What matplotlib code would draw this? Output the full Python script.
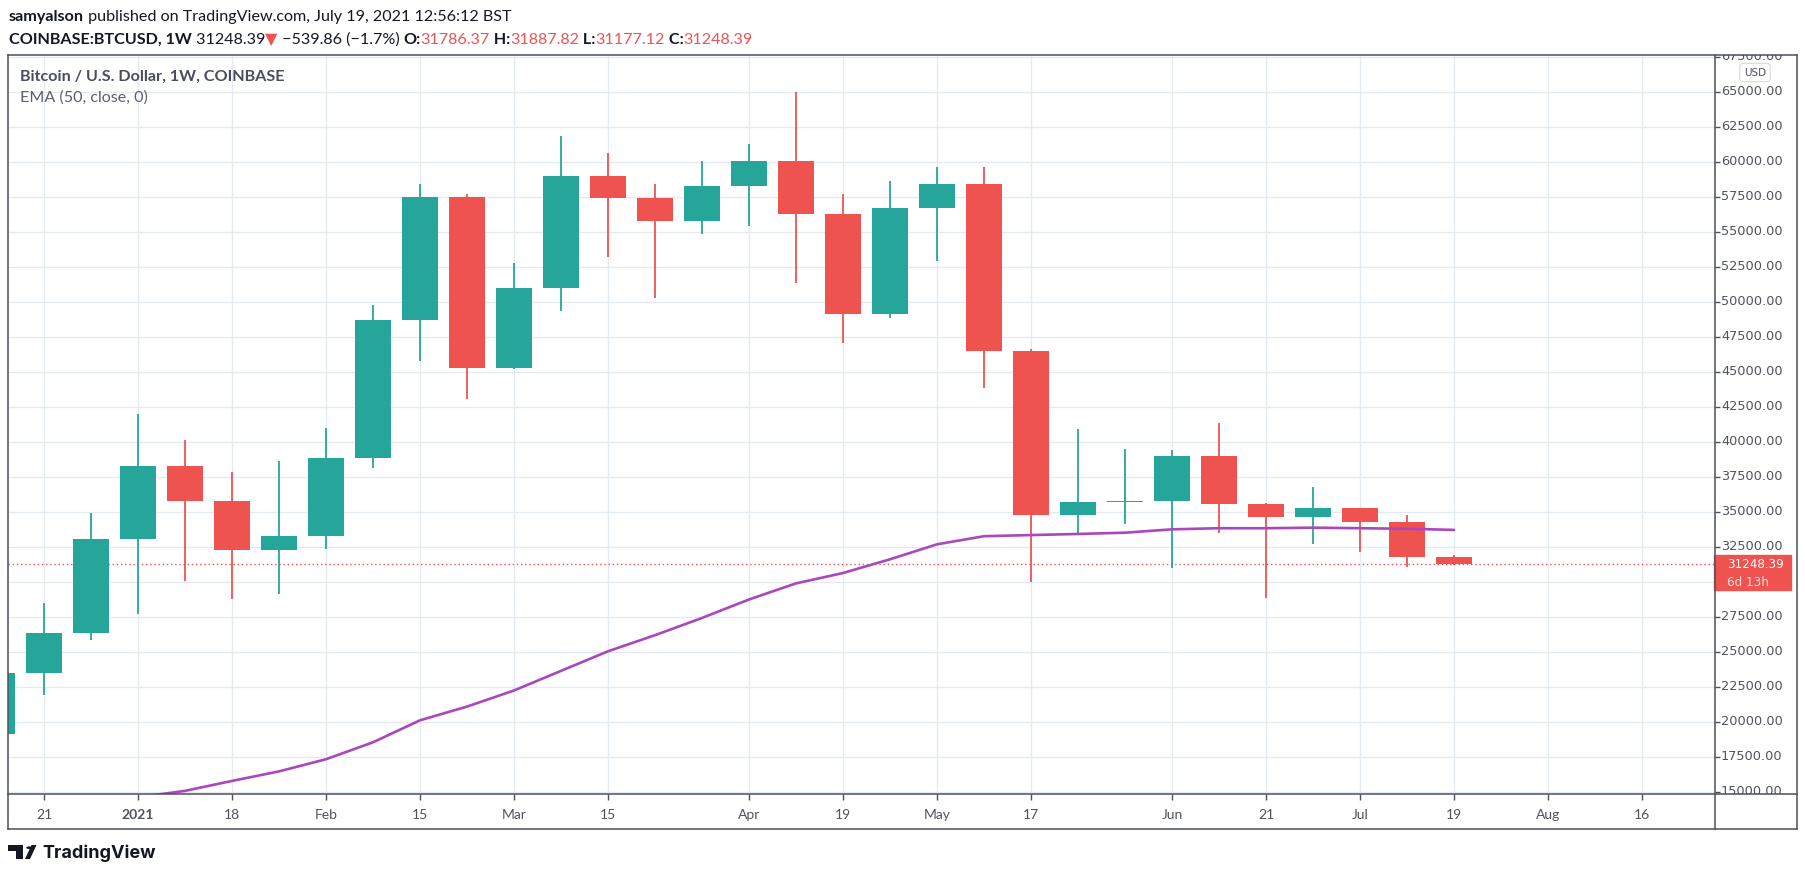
import numpy as np
import matplotlib.pyplot as plt
from matplotlib.patches import Rectangle, Circle, Polygon
from matplotlib.lines import Line2D

W, H = 1805, 876

# weekly candles, Coinbase BTC/USD, week starting Mon 2020-12-14 ... 2021-07-19
weeks = ["2020-12-14", "2020-12-21", "2020-12-28", "2021-01-04", "2021-01-11",
         "2021-01-18", "2021-01-25", "2021-02-01", "2021-02-08", "2021-02-15",
         "2021-02-22", "2021-03-01", "2021-03-08", "2021-03-15", "2021-03-22",
         "2021-03-29", "2021-04-05", "2021-04-12", "2021-04-19", "2021-04-26",
         "2021-05-03", "2021-05-10", "2021-05-17", "2021-05-24", "2021-05-31",
         "2021-06-07", "2021-06-14", "2021-06-21", "2021-06-28", "2021-07-05",
         "2021-07-12", "2021-07-19"]
opens = [19150, 23470, 26340, 33080, 38260, 35800, 32260, 33250, 38840, 48700,
         57500, 45250, 51000, 58980, 57420, 55770, 58240, 60050, 56260, 49110,
         56680, 58400, 46480, 34730, 35710, 35800, 39000, 35550, 34650, 35300,
         34230, 31786.37]
highs = [24300, 28480, 34890, 41960, 40150, 37850, 38590, 40980, 49770, 58400,
         57660, 52730, 61850, 60620, 58400, 60050, 61280, 64980, 57660, 58650,
         59630, 59630, 46650, 40890, 39500, 39410, 41300, 35630, 36780, 35300,
         34730, 31887.82]
lows = [19000, 21900, 25850, 27660, 30040, 28730, 29140, 32340, 38100, 45740,
        43030, 45170, 49360, 53220, 50260, 54870, 55440, 51330, 47060, 48870,
        52890, 43850, 29960, 33500, 34150, 30950, 33500, 28810, 32670, 32100,
        31030, 31177.12]
closes = [23470, 26340, 33080, 38260, 35800, 32260, 33250, 38840, 48700, 57500,
          45250, 51000, 58980, 57420, 55770, 58240, 60050, 56260, 49110, 56680,
          58400, 46480, 34730, 35710, 35800, 39000, 35550, 34650, 35300, 34230,
          31786.37, 31248.39]
# EMA(50), from week 2021-01-04 on
ema_start = 3
ema = [14600, 15060, 15770, 16450, 17320, 18530, 20100, 21080, 22230, 23630,
       25030, 26180, 27410, 28730, 29880, 30620, 31600, 32670, 33250, 33330,
       33410, 33500, 33740, 33820, 33820, 33860, 33820, 33780, 33700]

tick_pos = [1, 3, 5, 7, 9, 11, 13, 16, 18, 20, 22, 25, 27, 29, 31, 33, 35]
tick_lab = ["21", "2021", "18", "Feb", "15", "Mar", "15", "Apr", "19", "May",
            "17", "Jun", "21", "Jul", "19", "Aug", "16"]
price_ticks = list(range(15000, 67501, 2500))

GREEN = "#26a69a"
RED = "#ef5350"
EMA_C = "#ab47bc"
GRID = "#e3ebf1"
FRAME = "#4c505b"
TXT = "#50535e"
BLK = "#131722"
ui = ["Lato", "DejaVu Sans"]


def fbox(x0, y0, x1, y1):
    # pixel box (origin top-left) -> figure fraction rect
    return [x0 / W, 1 - y1 / H, (x1 - x0) / W, (y1 - y0) / H]


fig = plt.figure(figsize=(W / 100, H / 100), dpi=100)
fig.patch.set_facecolor("white")

ax = fig.add_axes(fbox(8, 55, 1715, 794))
ax.set_xlim(11 / 47, 1718 / 47)
ax.set_ylim(14836, 67621)
for s in ax.spines.values():
    s.set_visible(False)

x = np.arange(len(weeks))
o = np.array(opens)
c = np.array(closes)
cols = [GREEN if cc >= oo else RED for oo, cc in zip(o, c)]
ax.vlines(x, lows, highs, colors=cols, lw=1.3, zorder=3)
body = np.maximum(np.abs(c - o), 60)
ax.bar(x, body, bottom=np.minimum(o, c), width=0.787, color=cols, lw=0, zorder=4)

ax.plot(x[ema_start:], ema, color=EMA_C, lw=1.9, zorder=5, solid_capstyle="round")
ax.axhline(closes[-1], color=RED, lw=1, ls=(0, (1, 2)), zorder=2)

ax.set_yticks(price_ticks)
ax.tick_params(axis="y", length=0, labelleft=False)
ax.set_xticks(tick_pos, tick_lab)
ax.tick_params(axis="x", length=4, width=1, color=FRAME, pad=7,
               labelsize=10, labelcolor=TXT)
for lab in ax.get_xticklabels():
    lab.set_fontfamily(ui)
    if lab.get_text() == "2021":
        lab.set_fontweight("bold")
ax.grid(True, color=GRID, lw=1, zorder=0)
ax.set_axisbelow(True)

# price scale
axp = fig.add_axes(fbox(1715, 55, 1796, 794))
axp.set_xlim(0, 81)
axp.set_ylim(ax.get_ylim())
axp.axis("off")
ppu = (794 - 55) / (ax.get_ylim()[1] - ax.get_ylim()[0])
last = closes[-1]
box_lo, box_hi = last - 26 / ppu, last + 9 / ppu
axp.hlines(price_ticks, 0, 5, color=FRAME, lw=1)
for v in price_ticks:
    if box_lo - 6 / ppu < v < box_hi + 6 / ppu:
        continue  # hidden behind the last-price label
    axp.text(6, v, f"{v:.2f}", va="center", ha="left", fontsize=9.3,
             color=TXT, clip_on=True)
axp.add_patch(Rectangle((-1, box_lo), 77, box_hi - box_lo, color=RED,
                        zorder=5, clip_on=False))
axp.text(12, last, f"{last:.2f}", va="center", ha="left", fontsize=8.6,
         color="white", zorder=6)
axp.text(12, last - 18 / ppu, "6d 13h", va="center", ha="left", fontsize=8.6,
         color="#fcdcdb", zorder=6)
fig.text(1755 / W, 1 - 72.5 / H, "USD", ha="center", va="center", fontsize=7.5,
         color=TXT,
         bbox=dict(boxstyle="round,pad=0.4,rounding_size=0.35", fc="white",
                   ec="#d6d9e0", lw=0.8))


# frame lines
def fline(x0, y0, x1, y1):
    fig.add_artist(Line2D([x0 / W, x1 / W], [1 - y0 / H, 1 - y1 / H],
                          color=FRAME, lw=1.1, transform=fig.transFigure, zorder=10))


fline(8, 55, 1797, 55)
fline(8, 829, 1797, 829)
fline(8, 55, 8, 829)
fline(1797, 55, 1797, 829)
fline(1715, 55, 1715, 829)
fline(8, 794, 1797, 794)


# header lines made of several styled pieces
def chain(pieces, x0, y0, size):
    prev = None
    for s, col, wt in pieces:
        if prev is None:
            prev = fig.text(x0 / W, 1 - y0 / H, s, color=col, fontweight=wt,
                            fontsize=size, family=ui, va="center", ha="left")
        else:
            prev = ax.annotate(s, xy=(1, 0.5), xycoords=prev, color=col,
                               fontweight=wt, fontsize=size, family=ui,
                               va="center", ha="left", annotation_clip=False)


chain([("samyalson", BLK, "bold"),
       (" published on TradingView.com, July 19, 2021 12:56:12 BST", BLK, "normal")],
      9, 17, 11.6)
chain([("COINBASE:BTCUSD, 1W", BLK, "bold"),
       (" 31248.39", BLK, "normal"),
       ("\u25bc", RED, "normal"),
       (" \u2212539.86 (\u22121.7%) ", BLK, "normal"),
       ("O:", BLK, "bold"), ("31786.37", RED, "normal"),
       (" H:", BLK, "bold"), ("31887.82", RED, "normal"),
       (" L:", BLK, "bold"), ("31177.12", RED, "normal"),
       (" C:", BLK, "bold"), ("31248.39", RED, "normal")],
      9, 40, 11.6)

fig.text(20 / W, 1 - 77 / H, "Bitcoin / U.S. Dollar, 1W, COINBASE", color="#4a4e5a",
         fontweight="bold", fontsize=11.6, family=ui, va="center")
fig.text(20 / W, 1 - 98 / H, "EMA (50, close, 0)", color="#5d606b",
         fontsize=11.6, family=ui, va="center")


# TradingView logo
def px(xp, yp):
    return (xp / W, 1 - yp / H)


fig.add_artist(Polygon([px(8, 845), px(23, 845), px(23, 859), px(16, 859),
                        px(16, 851), px(8, 851)], closed=True, fc=BLK,
                       transform=fig.transFigure))
fig.add_artist(Circle(px(29, 847.7), 2.7 / W, fc=BLK, transform=fig.transFigure))
fig.add_artist(Polygon([px(31.5, 845), px(36.5, 845), px(30, 859), px(25, 859)],
                       closed=True, fc=BLK, transform=fig.transFigure))
fig.text(42 / W, 1 - 853 / H, "TradingView", color=BLK, fontsize=13,
         fontweight="bold", family=["Inter", "DejaVu Sans"], va="center")

fig.savefig("out.png", dpi=100)
